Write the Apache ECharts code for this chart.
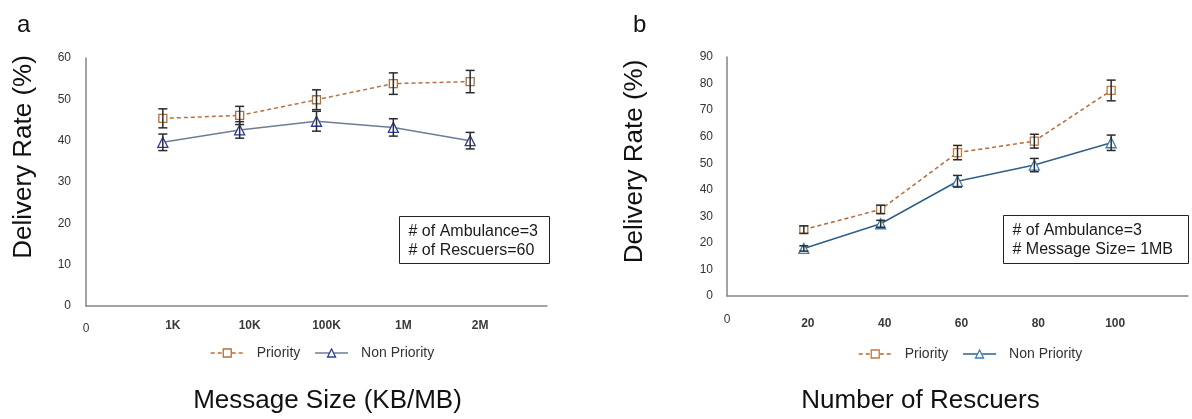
<!DOCTYPE html>
<html>
<head>
<meta charset="utf-8">
<script src="https://cdn.jsdelivr.net/npm/echarts@6/dist/echarts.min.js"></script>
<style>html,body{margin:0;padding:0;background:#fff}#c{width:1192px;height:419px}</style>
</head>
<body>
<div id="c"></div>
<script>
// ---- Data ----
const sizeLabels = ['1K', '10K', '100K', '1M', '2M'];
const priorityA = [45.4, 46.1, 49.9, 53.8, 54.3];
const priorityAErr = [2.3, 2.2, 2.4, 2.6, 2.7];
const nonPriorityA = [39.6, 42.6, 44.7, 43.2, 40.0];
const nonPriorityAErr = [2.0, 2.0, 2.4, 2.1, 2.0];

const rescuers = [20, 40, 60, 80, 100];
const priorityB = [25.0, 32.6, 54.0, 58.3, 77.4];
const priorityBErr = [1.4, 1.6, 2.7, 2.6, 3.9];
const nonPriorityB = [17.9, 27.2, 43.2, 49.3, 57.7];
const nonPriorityBErr = [1.0, 1.3, 2.2, 2.5, 2.9];

const yTicksA = [0, 10, 20, 30, 40, 50, 60];
const yTicksB = [0, 10, 20, 30, 40, 50, 60, 70, 80, 90];

const noteA = ['# of Ambulance=3', '# of Rescuers=60'];
const noteB = ['# of Ambulance=3', '# Message Size= 1MB'];

// ---- Build ----
const FONT = '"Liberation Sans", Arial, sans-serif';
const xPosA = sizeLabels.map((_, i) => i + 1);

function pairs(xs, ys) { return xs.map((x, i) => [x, ys[i]]); }
function errData(xs, ys, es) { return xs.map((x, i) => [x, ys[i], es[i]]); }

function errRender(params, api) {
  const x = api.value(0), y = api.value(1), e = api.value(2);
  const top = api.coord([x, y + e]);
  const bot = api.coord([x, y - e]);
  const c = 4.5;
  const st = { stroke: '#2b2b2b', lineWidth: 1.5 };
  return {
    type: 'group',
    children: [
      { type: 'line', shape: { x1: top[0], y1: top[1], x2: bot[0], y2: bot[1] }, style: st },
      { type: 'line', shape: { x1: top[0] - c, y1: top[1], x2: top[0] + c, y2: top[1] }, style: st },
      { type: 'line', shape: { x1: bot[0] - c, y1: bot[1], x2: bot[0] + c, y2: bot[1] }, style: st }
    ]
  };
}

const axisLineStyle = { show: true, lineStyle: { color: '#858585', width: 1.5 } };

const cPA = { line: '#B9703F', mark: '#B0703A' };
const cNA = { line: '#6E7D93', mark: '#2B3BA0' };
const cPB = { line: '#B5683A', mark: '#C07A45' };
const cNB = { line: '#2F5F8A', mark: '#3D7DB0' };

function lineSeries(name, data, xi, col, dashed, symbol, size) {
  return {
    name: name, type: 'line', xAxisIndex: xi, yAxisIndex: xi, data: data,
    symbol: symbol, symbolSize: size, showSymbol: true,
    lineStyle: { color: col.line, width: 1.5, type: dashed ? [4, 3] : 'solid' },
    itemStyle: { color: '#ffffff', borderColor: col.mark, borderWidth: 1.3 },
    emphasis: { disabled: true }, z: 2
  };
}
function errSeries(data, xi) {
  return { type: 'custom', xAxisIndex: xi, yAxisIndex: xi, data: data, renderItem: errRender, z: 4, silent: true };
}

function legendItems(cp, cn) {
  return [
    { name: 'Priority', itemStyle: { color: '#fff', borderColor: cp.mark, borderWidth: 1.3 }, lineStyle: { color: cp.line, type: [4, 3], width: 1.5 } },
    { name: 'Non Priority', itemStyle: { color: '#fff', borderColor: cn.mark, borderWidth: 1.3 }, lineStyle: { color: cn.line, width: 1.5 } }
  ];
}

function noteGraphic(lines, x, y, w, h) {
  return {
    type: 'group', left: x, top: y,
    children: [
      { type: 'rect', shape: { x: 0, y: 0, width: w, height: h }, style: { fill: '#fff', stroke: '#222', lineWidth: 1 } },
      { type: 'text', x: 9, y: 5, style: { text: lines.join('\n'), font: '16px ' + FONT, fill: '#1a1a1a', lineHeight: 19.5 } }
    ]
  };
}

const option = {
  animation: false,
  backgroundColor: '#fff',
  textStyle: { fontFamily: FONT },
  title: [
    { text: 'a', left: 12, top: 8, textStyle: { fontSize: 24, fontWeight: 'normal', color: '#111', fontFamily: FONT } },
    { text: 'b', left: 628, top: 8, textStyle: { fontSize: 24, fontWeight: 'normal', color: '#111', fontFamily: FONT } }
  ],
  grid: [
    { left: 86, top: 58, width: 461, height: 249.5 },
    { left: 727, top: 57, width: 461, height: 241 }
  ],
  legend: [
    { left: 205, top: 341, itemWidth: 33, itemHeight: 10, itemGap: 14, selectedMode: false,
      textStyle: { fontSize: 14, color: '#333', padding: [0, 0, 0, 8] }, data: legendItems(cPA, cNA) },
    { left: 853, top: 342, itemWidth: 33, itemHeight: 10, itemGap: 14, selectedMode: false,
      textStyle: { fontSize: 14, color: '#333', padding: [0, 0, 0, 8] }, data: legendItems(cPB, cNB) }
  ],
  xAxis: [
    { gridIndex: 0, type: 'value', min: 0, max: 6, interval: 1,
      name: 'Message Size (KB/MB)', nameLocation: 'middle', nameGap: 82,
      nameTextStyle: { fontSize: 26, color: '#111', padding: [0, 0, 0, 22] },
      axisLine: axisLineStyle, axisTick: { show: false }, splitLine: { show: false },
      axisLabel: {
        margin: 11, color: '#3a3a3a', fontSize: 12,
        formatter: function (v) {
          if (v === 0) return '{z|0}';
          const lab = sizeLabels[v - 1];
          return lab ? '{c|' + lab + '}' : '';
        },
        rich: {
          z: { fontSize: 12, color: '#3a3a3a', padding: [6, 0, 0, 0] },
          c: { fontSize: 12, color: '#3a3a3a', fontWeight: 'bold', padding: [3, 0, 0, 20] }
        }
      }
    },
    { gridIndex: 1, type: 'value', min: 0, max: 120, interval: 20,
      name: 'Number of Rescuers', nameLocation: 'middle', nameGap: 92,
      nameTextStyle: { fontSize: 26, color: '#111', padding: [0, 74, 0, 0] },
      axisLine: axisLineStyle, axisTick: { show: false }, splitLine: { show: false },
      axisLabel: {
        margin: 18, color: '#3a3a3a', fontSize: 12,
        formatter: function (v) {
          if (v === 0) return '{z|0}';
          return rescuers.indexOf(v) >= 0 ? '{c|' + v + '}' : '';
        },
        rich: {
          z: { fontSize: 12, color: '#3a3a3a' },
          c: { fontSize: 12, color: '#3a3a3a', fontWeight: 'bold', padding: [4, 0, 0, 8] }
        }
      }
    }
  ],
  yAxis: [
    { gridIndex: 0, type: 'value', min: 0, max: 60, interval: 10,
      name: 'Delivery Rate (%)', nameLocation: 'middle', nameGap: 49,
      nameTextStyle: { fontSize: 26, color: '#111', padding: [0, 0, 0, 50] },
      axisLine: axisLineStyle, axisTick: { show: false }, splitLine: { show: false },
      axisLabel: { margin: 15, fontSize: 12, color: '#333',
        formatter: function (v) { return yTicksA.indexOf(v) >= 0 ? String(v) : ''; } }
    },
    { gridIndex: 1, type: 'value', min: 0, max: 90, interval: 10,
      name: 'Delivery Rate (%)', nameLocation: 'middle', nameGap: 79,
      nameTextStyle: { fontSize: 26, color: '#111', padding: [0, 0, 0, 30] },
      axisLine: axisLineStyle, axisTick: { show: false }, splitLine: { show: false },
      axisLabel: { margin: 14, fontSize: 12, color: '#333',
        formatter: function (v) { return yTicksB.indexOf(v) >= 0 ? String(v) : ''; } }
    }
  ],
  series: [
    lineSeries('Priority', pairs(xPosA, priorityA), 0, cPA, true, 'rect', 8),
    lineSeries('Non Priority', pairs(xPosA, nonPriorityA), 0, cNA, false, 'triangle', 10),
    errSeries(errData(xPosA, priorityA, priorityAErr), 0),
    errSeries(errData(xPosA, nonPriorityA, nonPriorityAErr), 0),
    lineSeries('Priority', pairs(rescuers, priorityB), 1, cPB, true, 'rect', 8),
    lineSeries('Non Priority', pairs(rescuers, nonPriorityB), 1, cNB, false, 'triangle', 10),
    errSeries(errData(rescuers, priorityB, priorityBErr), 1),
    errSeries(errData(rescuers, nonPriorityB, nonPriorityBErr), 1)
  ],
  graphic: [
    noteGraphic(noteA, 399, 216, 150, 47),
    noteGraphic(noteB, 1003, 215, 185, 48)
  ]
};

const chart = echarts.init(document.getElementById('c'), null, { renderer: 'canvas' });
chart.setOption(option);
</script>
</body>
</html>
